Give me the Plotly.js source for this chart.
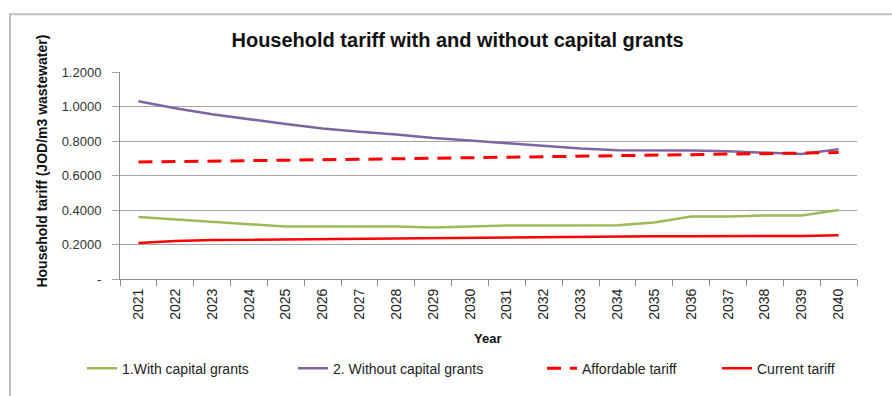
<!DOCTYPE html>
<html>
<head>
<meta charset="utf-8">
<script src="https://cdn.plot.ly/plotly-3.0.1.min.js"></script>
<style>html,body{margin:0;padding:0;background:#fff;}#chart{width:892px;height:396px;}</style>
</head>
<body>
<div id="chart"></div>
<script>
const years = ["2021","2022","2023","2024","2025","2026","2027","2028","2029","2030","2031","2032","2033","2034","2035","2036","2037","2038","2039","2040"];
const withGrants = [0.360,0.345,0.330,0.318,0.305,0.305,0.305,0.305,0.298,0.305,0.310,0.310,0.310,0.312,0.328,0.362,0.363,0.368,0.368,0.400];
const withoutGrants = [1.030,0.990,0.955,0.925,0.898,0.873,0.853,0.838,0.818,0.803,0.786,0.770,0.756,0.746,0.746,0.745,0.740,0.730,0.724,0.752];
const affordable = [0.678,0.680,0.682,0.685,0.688,0.691,0.694,0.697,0.700,0.703,0.706,0.709,0.712,0.715,0.718,0.721,0.724,0.727,0.730,0.733];
const current = [0.209,0.220,0.226,0.228,0.228,0.229,0.235,0.237,0.238,0.241,0.243,0.243,0.244,0.248,0.248,0.248,0.248,0.248,0.249,0.254];
const yTickVals = [0,0.2,0.4,0.6,0.8,1.0,1.2];
const yTickText = ["-","0.2000","0.4000","0.6000","0.8000","1.0000","1.2000"];

const F = "Liberation Sans, Arial, sans-serif";
const traces = [
  {x: years, y: withGrants, name: "1.With capital grants", type: "scatter", mode: "lines", line: {color: "#9BBB59", width: 2.5}, legend: "legend"},
  {x: years, y: withoutGrants, name: "2. Without capital grants", type: "scatter", mode: "lines", line: {color: "#8064A2", width: 2.5}, legend: "legend2"},
  {x: years, y: affordable, name: "Affordable tariff", type: "scatter", mode: "lines", line: {color: "#FF0000", width: 3, dash: "14px,9px"}, legend: "legend3"},
  {x: years, y: current, name: "Current tariff", type: "scatter", mode: "lines", line: {color: "#FF0000", width: 2.5}, legend: "legend4"}
];
const W = 737, H = 215, L = 120, T = 72;
const px = v => (v - L) / W;
const py = v => (T + H - v) / H;
const leg = x => ({x: px(x), xanchor: "left", y: py(380), yanchor: "middle", orientation: "h", font: {family: F, size: 14, color: "#222"}, bgcolor: "rgba(0,0,0,0)", borderwidth: 0});
const layout = {
  width: 892, height: 396,
  margin: {l: 120, r: 35, t: 72, b: 109},
  paper_bgcolor: "#ffffff", plot_bgcolor: "#ffffff",
  font: {family: F, color: "#222", size: 11},
  title: {text: "<b>Household tariff with and without capital grants</b>", font: {family: F, size: 20, color: "#111"}, x: 0.513, xanchor: "center", y: 0.9, yanchor: "middle"},
  xaxis: {
    type: "category", range: [-0.5, 19.5],
    showgrid: false, showline: true, linecolor: "#8c8c8c", linewidth: 1,
    ticks: "outside", tickson: "boundaries", ticklen: 6, tickcolor: "#8c8c8c", ticklabelstandoff: 3,
    tickangle: -90, tickfont: {family: F, size: 14, color: "#222"},
    zeroline: false, fixedrange: true
  },
  yaxis: {
    range: [0, 1.2], tickvals: yTickVals, ticktext: yTickText,
    showgrid: true, gridcolor: "#a6a6a6", gridwidth: 1,
    showline: true, linecolor: "#8c8c8c", linewidth: 1,
    ticks: "outside", ticklen: 7, tickcolor: "#a6a6a6", ticklabelstandoff: 8,
    tickfont: {family: F, size: 13, color: "#333"},
    zeroline: false, fixedrange: true
  },
  legend: leg(82),
  legend2: leg(293),
  legend3: leg(542),
  legend4: leg(717),
  showlegend: true,
  annotations: [
    {text: "<b>Household tariff (JOD/m3 wastewater)</b>", xref: "paper", yref: "paper", x: px(42), y: py(165), textangle: -90, showarrow: false, xanchor: "center", yanchor: "middle", font: {family: F, size: 14, color: "#111"}},
    {text: "<b>Year</b>", xref: "paper", yref: "paper", x: px(487), y: py(349), showarrow: false, xanchor: "center", yanchor: "middle", font: {family: F, size: 13, color: "#111"}}
  ],
  shapes: [
    {type: "rect", xref: "paper", yref: "paper", x0: px(10), x1: 1.1, y0: -0.6, y1: py(12), line: {color: "#c0c0c0", width: 2}, fillcolor: "rgba(0,0,0,0)", layer: "below"}
  ]
};
Plotly.newPlot("chart", traces, layout, {displayModeBar: false, staticPlot: true});
</script>
</body>
</html>
